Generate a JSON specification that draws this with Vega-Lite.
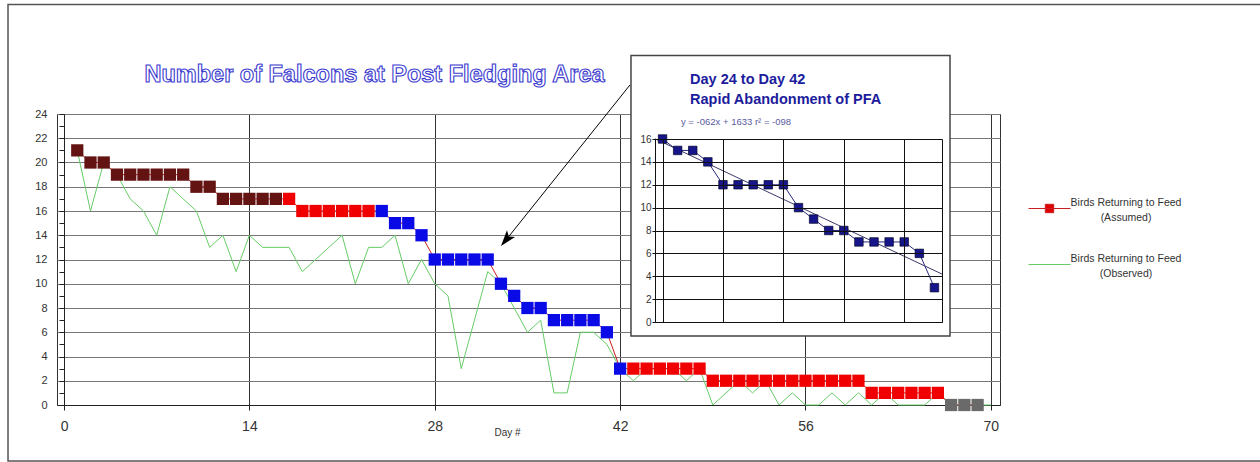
{
  "$schema": "https://vega.github.io/schema/vega-lite/v6.json",
  "width": 943,
  "height": 291,
  "autosize": {"type": "none"},
  "padding": {"left": 57, "top": 114, "right": 260, "bottom": 57},
  "background": "white",
  "config": {
    "font": "Liberation Sans",
    "view": {"stroke": "#333", "strokeWidth": 1},
    "axis": {"labelFont": "Liberation Sans", "titleFont": "Liberation Sans"}
  },
  "datasets": {
    "falcons": [
      {"day": 1, "assumed": 21, "observed": 21, "cls": "dark"},
      {"day": 2, "assumed": 20, "observed": 16, "cls": "dark"},
      {"day": 3, "assumed": 20, "observed": 20, "cls": "dark"},
      {"day": 4, "assumed": 19, "observed": 19, "cls": "dark"},
      {"day": 5, "assumed": 19, "observed": 17, "cls": "dark"},
      {"day": 6, "assumed": 19, "observed": 16, "cls": "dark"},
      {"day": 7, "assumed": 19, "observed": 14, "cls": "dark"},
      {"day": 8, "assumed": 19, "observed": 18, "cls": "dark"},
      {"day": 9, "assumed": 19, "observed": 17, "cls": "dark"},
      {"day": 10, "assumed": 18, "observed": 16, "cls": "dark"},
      {"day": 11, "assumed": 18, "observed": 13, "cls": "dark"},
      {"day": 12, "assumed": 17, "observed": 14, "cls": "dark"},
      {"day": 13, "assumed": 17, "observed": 11, "cls": "dark"},
      {"day": 14, "assumed": 17, "observed": 14, "cls": "dark"},
      {"day": 15, "assumed": 17, "observed": 13, "cls": "dark"},
      {"day": 16, "assumed": 17, "observed": 13, "cls": "dark"},
      {"day": 17, "assumed": 17, "observed": 13, "cls": "red"},
      {"day": 18, "assumed": 16, "observed": 11, "cls": "red"},
      {"day": 19, "assumed": 16, "observed": 12, "cls": "red"},
      {"day": 20, "assumed": 16, "observed": 13, "cls": "red"},
      {"day": 21, "assumed": 16, "observed": 14, "cls": "red"},
      {"day": 22, "assumed": 16, "observed": 10, "cls": "red"},
      {"day": 23, "assumed": 16, "observed": 13, "cls": "red"},
      {"day": 24, "assumed": 16, "observed": 13, "cls": "blue"},
      {"day": 25, "assumed": 15, "observed": 14, "cls": "blue"},
      {"day": 26, "assumed": 15, "observed": 10, "cls": "blue"},
      {"day": 27, "assumed": 14, "observed": 12, "cls": "blue"},
      {"day": 28, "assumed": 12, "observed": 10, "cls": "blue"},
      {"day": 29, "assumed": 12, "observed": 9, "cls": "blue"},
      {"day": 30, "assumed": 12, "observed": 3, "cls": "blue"},
      {"day": 31, "assumed": 12, "observed": 7, "cls": "blue"},
      {"day": 32, "assumed": 12, "observed": 11, "cls": "blue"},
      {"day": 33, "assumed": 10, "observed": 10, "cls": "blue"},
      {"day": 34, "assumed": 9, "observed": 8, "cls": "blue"},
      {"day": 35, "assumed": 8, "observed": 6, "cls": "blue"},
      {"day": 36, "assumed": 8, "observed": 7, "cls": "blue"},
      {"day": 37, "assumed": 7, "observed": 1, "cls": "blue"},
      {"day": 38, "assumed": 7, "observed": 1, "cls": "blue"},
      {"day": 39, "assumed": 7, "observed": 6, "cls": "blue"},
      {"day": 40, "assumed": 7, "observed": 6, "cls": "blue"},
      {"day": 41, "assumed": 6, "observed": 5, "cls": "blue"},
      {"day": 42, "assumed": 3, "observed": 3, "cls": "blue"},
      {"day": 43, "assumed": 3, "observed": 2, "cls": "red"},
      {"day": 44, "assumed": 3, "observed": 3, "cls": "red"},
      {"day": 45, "assumed": 3, "observed": 3, "cls": "red"},
      {"day": 46, "assumed": 3, "observed": 3, "cls": "red"},
      {"day": 47, "assumed": 3, "observed": 2, "cls": "red"},
      {"day": 48, "assumed": 3, "observed": 3, "cls": "red"},
      {"day": 49, "assumed": 2, "observed": 0, "cls": "red"},
      {"day": 50, "assumed": 2, "observed": 1, "cls": "red"},
      {"day": 51, "assumed": 2, "observed": 2, "cls": "red"},
      {"day": 52, "assumed": 2, "observed": 1, "cls": "red"},
      {"day": 53, "assumed": 2, "observed": 2, "cls": "red"},
      {"day": 54, "assumed": 2, "observed": 0, "cls": "red"},
      {"day": 55, "assumed": 2, "observed": 1, "cls": "red"},
      {"day": 56, "assumed": 2, "observed": 0, "cls": "red"},
      {"day": 57, "assumed": 2, "observed": 0, "cls": "red"},
      {"day": 58, "assumed": 2, "observed": 1, "cls": "red"},
      {"day": 59, "assumed": 2, "observed": 0, "cls": "red"},
      {"day": 60, "assumed": 2, "observed": 1, "cls": "red"},
      {"day": 61, "assumed": 1, "observed": 0, "cls": "red"},
      {"day": 62, "assumed": 1, "observed": 1, "cls": "red"},
      {"day": 63, "assumed": 1, "observed": 0, "cls": "red"},
      {"day": 64, "assumed": 1, "observed": 0, "cls": "red"},
      {"day": 65, "assumed": 1, "observed": 0, "cls": "red"},
      {"day": 66, "assumed": 1, "observed": 1, "cls": "red"},
      {"day": 67, "assumed": 0, "observed": 0, "cls": "gray"},
      {"day": 68, "assumed": 0, "observed": 0, "cls": "gray"},
      {"day": 69, "assumed": 0, "observed": 0, "cls": "gray"},
      {"day": 70, "assumed": null, "observed": 0, "cls": "none"}
    ]
  },
  "resolve": {
    "scale": {"x": "independent", "y": "independent"},
    "axis": {"x": "independent", "y": "independent"}
  },
  "layer": [
    {
      "data": {"values": [{"frame": "outer"}]},
      "mark": {"type": "rect", "fill": null, "stroke": "#555", "strokeWidth": 1.5},
      "encoding": {
        "x": {"datum": -4.23, "type": "quantitative", "scale": {"domain": [-0.53, 70.69], "nice": false, "zero": false}, "axis": null},
        "x2": {"datum": 93},
        "y": {"datum": 33.03, "type": "quantitative", "scale": {"domain": [0, 24], "nice": false, "zero": false}, "axis": null},
        "y2": {"datum": -4.62}
      }
    },
    {
      "data": {"name": "falcons"},
      "mark": {"type": "line", "strokeWidth": 1},
      "encoding": {
        "x": {
          "field": "day", "type": "quantitative",
          "scale": {"domain": [-0.53, 70.69], "nice": false, "zero": false},
          "axis": {
            "orient": "bottom", "values": [0, 14, 28, 42, 56, 70],
            "grid": true, "gridColor": "#333", "tickSize": 5, "tickColor": "#222",
            "domainColor": "#222", "labelPadding": 9, "labelFontSize": 14,
            "labelColor": "#333", "labelFlush": false, "labelOverlap": false,
            "title": "Day #", "titleFontSize": 10, "titleFontWeight": "normal",
            "titleColor": "#333", "titleX": 450, "titleY": 27, "titleBaseline": "middle", "titleAlign": "center"
          }
        },
        "y": {
          "field": "observed", "type": "quantitative",
          "scale": {"domain": [0, 24], "nice": false, "zero": false},
          "axis": {
            "orient": "left", "offset": -7,
            "values": [0, 1, 2, 3, 4, 5, 6, 7, 8, 9, 10, 11, 12, 13, 14, 15, 16, 17, 18, 19, 20, 21, 22, 23, 24],
            "labelExpr": "datum.value % 2 === 0 ? datum.label : ''",
            "grid": true, "gridColor": "#777",
            "gridOpacity": {"condition": {"test": "datum.value % 2 === 0", "value": 1}, "value": 0},
            "tickSize": 5, "tickColor": "#222", "domainColor": "#222",
            "labelPadding": 12, "labelFontSize": 11, "labelColor": "#333",
            "labelOverlap": false, "labelFlush": false, "title": null
          }
        },
        "stroke": {
          "datum": "Observed",
          "scale": {"domain": ["Assumed", "Observed"], "range": ["#c82020", "#66cc66"]},
          "legend": {
            "orient": "none", "legendX": 971, "legendY": 73, "title": null,
            "symbolType": "M-1,0H1M-0.2,-0.2H0.2V0.2H-0.2Z",
            "symbolSize": 1764, "symbolStrokeWidth": 1,
            "labelExpr": "['Birds Returning to Feed', datum.value == 'Assumed' ? '(Assumed)' : '(Observed)']",
            "labelFontSize": 10.5, "labelColor": "#333", "labelAlign": "center",
            "labelOffset": 55, "labelLimit": 400, "rowPadding": 20,
            "encode": {
              "symbols": {
                "update": {
                  "shape": {"signal": "datum.value === 'Assumed' ? 'M-1,0H1M-0.2,-0.2H0.2V0.2H-0.2Z' : 'M-1,0H1'"},
                  "fill": {"signal": "datum.value === 'Assumed' ? '#e00000' : 'transparent'"}
                }
              },
              "labels": {
                "update": {"dy": {"value": -6}, "lineHeight": {"value": 15}}
              }
            }
          }
        }
      }
    },
    {
      "data": {"name": "falcons"},
      "mark": {"type": "line", "strokeWidth": 1},
      "encoding": {
        "x": {"field": "day", "type": "quantitative", "scale": {"domain": [-0.53, 70.69], "nice": false, "zero": false}, "axis": null},
        "y": {"field": "assumed", "type": "quantitative", "scale": {"domain": [0, 24], "nice": false, "zero": false}, "axis": null},
        "stroke": {"datum": "Assumed"}
      }
    },
    {
      "data": {"name": "falcons"},
      "transform": [{"filter": "datum.assumed != null"}],
      "mark": {"type": "point", "shape": "square", "size": 150, "filled": true, "opacity": 1},
      "encoding": {
        "x": {"field": "day", "type": "quantitative", "scale": {"domain": [-0.53, 70.69], "nice": false, "zero": false}, "axis": null},
        "y": {"field": "assumed", "type": "quantitative", "scale": {"domain": [0, 24], "nice": false, "zero": false}, "axis": null},
        "fill": {
          "field": "cls", "type": "nominal",
          "scale": {"domain": ["dark", "red", "blue", "gray"], "range": ["#641313", "#f00000", "#0a0ae6", "#6a6a6a"]},
          "legend": null
        }
      }
    },
    {
      "data": {"values": [{"note": "arrow"}]},
      "mark": {"type": "rule", "color": "black", "strokeWidth": 1},
      "encoding": {
        "x": {"datum": 42.74, "type": "quantitative", "scale": {"domain": [-0.53, 70.69], "nice": false, "zero": false}, "axis": null},
        "y": {"datum": 26.39, "type": "quantitative", "scale": {"domain": [0, 24], "nice": false, "zero": false}, "axis": null},
        "x2": {"datum": 33.38},
        "y2": {"datum": 13.61}
      }
    },
    {
      "data": {"values": [{"note": "arrowhead"}]},
      "mark": {"type": "point", "shape": "M0,-1L0.65,1L0,0.55L-0.65,1Z", "size": 256, "filled": true, "fill": "black", "opacity": 1, "angle": 219},
      "encoding": {
        "x": {"datum": 33.38, "type": "quantitative", "scale": {"domain": [-0.53, 70.69], "nice": false, "zero": false}, "axis": null},
        "y": {"datum": 13.62, "type": "quantitative", "scale": {"domain": [0, 24], "nice": false, "zero": false}, "axis": null}
      }
    },
    {
      "data": {"values": [{"label": "Number of Falcons at Post Fledging Area"}]},
      "mark": {"type": "text", "font": "Liberation Sans", "fontWeight": "bold", "fontSize": 23.5, "fill": "white", "stroke": "#3c3cd0", "strokeWidth": 1.1, "align": "center", "baseline": "middle"},
      "encoding": {
        "x": {"datum": 23.45, "type": "quantitative", "scale": {"domain": [-0.53, 70.69], "nice": false, "zero": false}, "axis": null},
        "y": {"datum": 27.22, "type": "quantitative", "scale": {"domain": [0, 24], "nice": false, "zero": false}, "axis": null},
        "text": {"field": "label"}
      }
    },
    {
      "data": {"values": [{"box": "inset"}]},
      "mark": {"type": "rect", "fill": "white", "stroke": "#444", "strokeWidth": 1.5},
      "encoding": {
        "x": {
          "datum": 21.91, "type": "quantitative",
          "scale": {"domain": [23.5, 42.5], "range": [598, 885], "nice": false, "zero": false},
          "axis": {
            "orient": "bottom", "offset": -83, "values": [24, 28, 32, 36, 40, 42.5],
            "grid": false, "ticks": true, "tickSize": -183, "tickColor": "#111", "labels": false,
            "domainColor": "#111", "title": null, "zindex": 1
          }
        },
        "x2": {"datum": 43.03},
        "y": {
          "datum": 23.3, "type": "quantitative",
          "scale": {"domain": [0, 16], "range": [208, 25], "nice": false, "zero": false},
          "axis": {
            "orient": "left", "offset": -598, "values": [0, 2, 4, 6, 8, 10, 12, 14, 16],
            "grid": true, "gridColor": "#111", "tickSize": 3, "tickColor": "#111",
            "domainColor": "#111", "labelPadding": 1, "labelFontSize": 10,
            "labelColor": "#333", "labelOverlap": false, "labelFlush": false,
            "title": null, "zindex": 1
          }
        },
        "y2": {"datum": -1.22}
      }
    },
    {
      "data": {"name": "falcons"},
      "transform": [{"filter": "datum.day >= 24 && datum.day <= 42"}],
      "mark": {"type": "line", "color": "#2a2a80", "strokeWidth": 1},
      "encoding": {
        "x": {"field": "day", "type": "quantitative", "scale": {"domain": [23.5, 42.5], "range": [598, 885], "nice": false, "zero": false}, "axis": null},
        "y": {"field": "assumed", "type": "quantitative", "scale": {"domain": [0, 16], "range": [208, 25], "nice": false, "zero": false}, "axis": null}
      }
    },
    {
      "data": {"name": "falcons"},
      "transform": [
        {"filter": "datum.day >= 24 && datum.day <= 42"},
        {"regression": "assumed", "on": "day", "extent": [23.5, 42.5]}
      ],
      "mark": {"type": "line", "color": "#3a3a6a", "strokeWidth": 1},
      "encoding": {
        "x": {"field": "day", "type": "quantitative", "scale": {"domain": [23.5, 42.5], "range": [598, 885], "nice": false, "zero": false}, "axis": null},
        "y": {"field": "assumed", "type": "quantitative", "scale": {"domain": [0, 16], "range": [208, 25], "nice": false, "zero": false}, "axis": null}
      }
    },
    {
      "data": {"name": "falcons"},
      "transform": [{"filter": "datum.day >= 24 && datum.day <= 42"}],
      "mark": {"type": "point", "shape": "square", "size": 72, "filled": true, "fill": "#16168a", "stroke": "#05052a", "strokeWidth": 0.7, "opacity": 1},
      "encoding": {
        "x": {"field": "day", "type": "quantitative", "scale": {"domain": [23.5, 42.5], "range": [598, 885], "nice": false, "zero": false}, "axis": null},
        "y": {"field": "assumed", "type": "quantitative", "scale": {"domain": [0, 16], "range": [208, 25], "nice": false, "zero": false}, "axis": null}
      }
    },
    {
      "data": {"values": [{"line1": "Day 24 to Day 42", "line2": "Rapid Abandonment of PFA"}]},
      "mark": {"type": "text", "font": "Liberation Sans", "fontWeight": "bold", "fontSize": 14.5, "color": "#1c1c9c", "align": "left", "baseline": "top", "lineHeight": 20},
      "encoding": {
        "x": {"datum": 25.82, "type": "quantitative", "scale": {"domain": [23.5, 42.5], "range": [598, 885], "nice": false, "zero": false}, "axis": null},
        "y": {"datum": 21.77, "type": "quantitative", "scale": {"domain": [0, 16], "range": [208, 25], "nice": false, "zero": false}, "axis": null},
        "text": {"value": ["Day 24 to Day 42", "Rapid Abandonment of PFA"]}
      }
    },
    {
      "data": {"values": [{"eq": "y = -062x + 1633 r² = -098"}]},
      "mark": {"type": "text", "font": "Liberation Sans", "fontSize": 9.5, "color": "#5a5aa0", "align": "left", "baseline": "middle"},
      "encoding": {
        "x": {"datum": 25.22, "type": "quantitative", "scale": {"domain": [23.5, 42.5], "range": [598, 885], "nice": false, "zero": false}, "axis": null},
        "y": {"datum": 17.49, "type": "quantitative", "scale": {"domain": [0, 16], "range": [208, 25], "nice": false, "zero": false}, "axis": null},
        "text": {"field": "eq"}
      }
    }
  ]
}
